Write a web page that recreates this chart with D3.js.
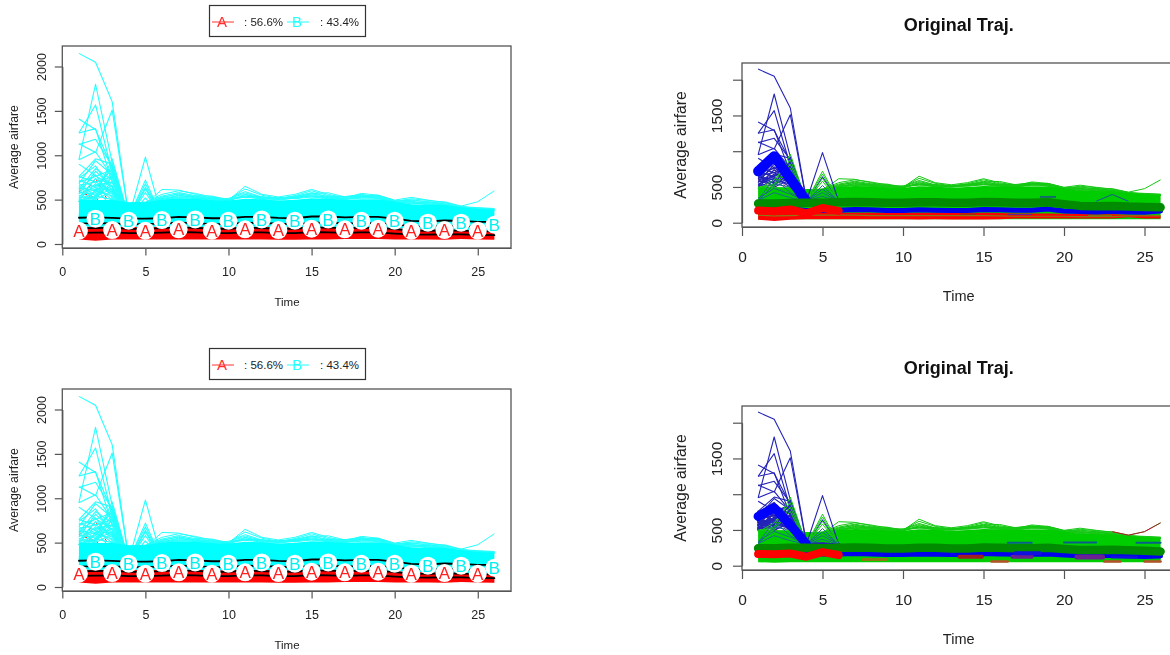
<!DOCTYPE html>
<html>
<head>
<meta charset="utf-8">
<script src="https://cdn.jsdelivr.net/npm/d3@7"></script>
<style>
body { margin: 0; background: #fff; overflow: hidden; }
svg { display: block; filter: blur(0.3px); }
text { font-family: "Liberation Sans", Arial, sans-serif; fill: #222; }
</style>
</head>
<body>
<script>
// Time axis shared by every trajectory
var times = [1,2,3,4,5,6,7,8,9,10,11,12,13,14,15,16,17,18,19,20,21,22,23,24,25,26];
var earlyTimes = [1,2,3,4,5,6];

var xTicks = [0,5,10,15,20,25];
var yTicks = [0,500,1000,1500,2000];
var yLabelsLeft = ['0','500','1000','1500','2000'];
var yLabelsRight = ['0','500','','1500',''];

// Solid body of the trajectories, read as envelopes
var bandTop = [495,495,495,470,470,500,515,510,495,490,510,505,490,500,515,510,500,505,505,480,445,445,440,415,395,385];
var redTop = [195,195,195,195,195,195,195,195,190,190,195,195,190,190,195,195,190,190,190,180,170,165,165,160,158,155];
var redBottom = [50,38,50,52,52,52,52,52,50,52,50,52,48,48,50,52,55,55,55,52,52,52,48,55,50,48];

// Black lines of the left panels
var blackB1 = [296,300,295,285,285,290,305,300,290,290,305,305,295,290,310,310,300,305,305,285,260,255,265,260,250,250];
var blackB2 = [230,235,232,225,225,230,240,235,225,225,240,238,228,225,240,240,232,235,238,220,200,198,205,200,192,190];
var blackA1 = [178,180,185,170,170,178,188,182,172,172,185,180,172,172,188,185,178,182,185,168,150,148,155,150,145,142];
var blackA2 = [125,128,132,122,122,128,135,130,122,122,132,130,122,122,135,132,126,130,132,118,108,105,110,108,102,100];

// Circled group labels
var labelTimesA = [1,3,5,7,9,11,13,15,17,19,21,23,25];
var labelValuesA = [150,157,150,165,150,165,157,172,165,172,150,157,150];
var labelTimesB = [2,4,6,8,10,12,14,16,18,20,22,24,26];
var labelValuesB = [285,262,270,277,262,277,262,277,262,262,240,240,217];

// Tall early trajectories, times 1 to 6
var spikeHigh = [
  [2148,2047,1604,320,300,300],
  [950,1800,920,300,980,300],
  [1250,1567,800,290,640,310],
  [1130,1030,1510,310,300,290],
  [1408,1290,860,300,300,300],
  [1250,1300,700,280,300,300],
  [1120,1180,880,300,300,300],
  [950,1040,760,290,300,310],
  [760,960,900,300,300,300],
  [680,940,780,310,320,300],
  [900,770,650,300,300,290]
];
// Lower early trajectories, times 1 to 6
var spikeLow = [
  [740,880,600,290,300,290],
  [620,850,720,300,300,300],
  [700,760,840,310,310,290],
  [560,820,640,280,300,300],
  [660,700,760,300,300,300],
  [520,740,580,300,290,310],
  [600,660,700,320,300,290],
  [540,620,620,290,300,300],
  [640,600,540,300,280,300],
  [500,680,560,300,300,290],
  [580,560,660,310,300,300],
  [720,640,500,300,300,300],
  [510,580,760,290,300,300],
  [680,540,620,300,310,300],
  [610,780,520,310,300,290],
  [530,520,700,300,300,300],
  [760,700,580,290,300,310],
  [570,640,840,300,290,300],
  [650,500,600,310,300,300]
];
// Nested triangles near the band top on the right panels
var nestedLines = [
  [320,620,420,300,520,300],
  [300,540,500,300,470,300],
  [340,480,400,300,420,300],
  [310,420,350,300,370,300]
];
var greenPeaks = [
  [480,540,960,300,720,300],
  [470,600,880,300,680,300],
  [500,520,820,300,620,300],
  [490,500,760,300,580,300]
];
// Hair lines running above the band
var hairLines = [
  [480,480,480,450,450,615,607,560,510,500,540,520,510,530,570,577,530,540,550,490,470,460,476,427,476,600],
  [480,480,480,450,470,560,600,570,530,495,650,560,530,560,615,560,520,570,550,495,525,495,470,420,410,400],
  [480,480,480,460,470,540,580,545,540,500,620,550,515,545,600,545,530,560,530,480,510,490,465,425,400,395],
  [480,480,480,460,460,520,570,530,520,510,590,530,505,535,580,530,525,540,545,490,490,480,450,410,405,390],
  [480,480,470,450,460,510,550,520,505,490,560,520,500,525,555,520,510,530,520,475,480,465,445,400,395,385],
  [480,480,470,450,450,505,535,510,495,500,540,500,495,515,540,515,505,515,515,470,465,450,440,405,390,380],
  [480,480,470,450,450,530,560,535,515,505,575,525,520,530,565,535,535,550,535,485,500,470,455,415,400,392],
  [480,480,470,450,450,500,545,525,530,495,530,535,510,520,545,525,515,525,530,480,455,475,435,405,398,388],
  [480,480,470,450,450,490,525,540,500,515,525,515,525,510,530,540,510,545,510,465,475,440,450,400,395,382],
  [480,480,470,450,450,515,520,515,510,485,555,510,505,540,530,510,500,535,540,460,450,455,430,395,392,380]
];
// Faint red lines inside the early spikes
var redSpikes = [
  [620,480,350,300,460,300],
  [480,740,400,300,420,300],
  [590,520,380,280,440,280]
];
// Lone blue line near the end of the upper right panel
var blueBump = [300,395,300];
var blueBumpTimes = [22,23,24];

// Means of the right panels
var greenMeanTop = [270,270,275,280,280,285,290,285,280,280,285,285,280,280,290,285,280,280,285,260,235,230,235,225,220,215];
var blueMeanTop = [190,185,190,170,170,175,185,180,170,170,180,175,170,170,185,180,175,175,190,165,155,150,160,150,145,165];
var redMeanTop = [170,160,185,130,205,165];
var blueThickTop = [720,930,620,300];
var greenMeanBottom = [245,245,250,250,245,250,255,250,240,240,250,250,240,240,255,250,245,245,250,235,220,218,222,215,208,197];
var blueMeanBottom = [190,185,190,160,165,165,170,165,155,155,165,160,155,155,170,165,160,160,165,150,140,135,145,135,130,135];
var redMeanBottom = [165,160,170,125,190,150];
var blueThickBottom = [690,810,570,305];
var oliveLine = [105,95,100,105,105,105,105,100,100,100,100,100,100,100,100,95,90,90,90,90,85,85,85,95,95,95];
var redBandTop = [140,140,140,140,140,140,140,140,135,135,140,140,135,135,140,135,130,130,130,125,120,115,118,110,105,100];
var redBandBottom = [40,25,40,50,50,50,50,50,48,50,45,50,45,45,45,50,60,60,60,60,60,60,60,75,60,60];
var lowerBand = [50,40,50,50,50,50,50,50,50,50,50,50,50,50,50,50,50,50,50,50,50,50,50,50,50,50];

// Patches of other colours showing through the band: start, end, value
var patchesTop = [
  [18.5,19.5,360,'#1f2fb0'],[13.5,14.5,120,'#8a3a10'],[16.5,18,115,'#6a2090'],[21.5,23,100,'#8a6a10']
];
var patchSpans = [
  [13.5,14.9,126,'#a02020',4],[16.8,18,125,'#6a2090',4],[20.8,22.4,120,'#6a2090',5],
  [22.5,23.5,60,'#b8502a',2.5],[25,26,60,'#b8502a',2.5],[7.5,9,85,'#8a7a10',3],
  [15.5,16.5,60,'#b8502a',2.5],[16.5,18,322,'#0a5f8a',2],[20,22,325,'#0a5f8a',2],[24.5,26,320,'#0a5f8a',2],
  [17,18.5,175,'#1010e0',4],[23,24.5,120,'#1010e0',3]
];

var svg = d3.select('body').append('svg')
    .attr('width', 1170)
    .attr('height', 655);

function drawLine(g, x, y, xs, values, color, width, dash) {
    var line = d3.line()
        .x(function(d, i) { return x(xs[i]); })
        .y(function(d) { return y(d); });
    g.append('path')
        .attr('d', line(values))
        .attr('fill', 'none')
        .attr('stroke', color)
        .attr('stroke-width', width)
        .attr('stroke-linejoin', 'round')
        .attr('stroke-linecap', width > 1.7 ? 'round' : 'butt')
        .attr('stroke-dasharray', dash || null);
}

function drawBand(g, x, y, top, bottom, color) {
    var area = d3.area()
        .x(function(d, i) { return x(times[i]); })
        .y0(function(d, i) { return y(bottom[i]); })
        .y1(function(d) { return y(d); });
    g.append('path').attr('d', area(top)).attr('fill', color);
}

// Box, axes and axis titles in the style of a base R plot
function drawFrame(g, p) {
    g.append('rect')
        .attr('x', p.left).attr('y', p.boxTop)
        .attr('width', p.boxRight - p.left).attr('height', p.boxBottom - p.boxTop)
        .attr('fill', 'none').attr('stroke', '#555').attr('stroke-width', 1.3);

    var ax = g.append('g')
        .attr('transform', 'translate(0,' + p.boxBottom + ')')
        .call(d3.axisBottom(p.x).tickValues(xTicks).tickFormat(d3.format('d')).tickSize(p.tick).tickSizeOuter(0).tickPadding(p.xPad));
    var ay = g.append('g')
        .attr('transform', 'translate(' + p.left + ',0)')
        .call(d3.axisLeft(p.y).tickValues(yTicks).tickFormat(function(d, i) { return p.yLabels[i]; }).tickSize(p.tick).tickSizeOuter(0));
    ay.selectAll('text')
        .attr('x', 0).attr('dy', 0)
        .attr('text-anchor', 'middle')
        .attr('transform', 'translate(' + (p.yLabelX - p.left + 0.36 * p.font) + ',0) rotate(-90)');
    [ax, ay].forEach(function(a) {
        a.selectAll('text').style('font-size', p.font + 'px').style('font-family', '"Liberation Sans"').attr('fill', '#222');
        a.selectAll('line').attr('stroke', '#555').attr('stroke-width', 1.2);
        a.select('.domain').attr('stroke', '#555').attr('stroke-width', 1.2);
    });

    g.append('text')
        .text('Time')
        .attr('x', p.timeX).attr('y', p.timeY)
        .attr('text-anchor', 'middle')
        .style('font-size', p.titleFont + 'px');
    g.append('text')
        .text('Average airfare')
        .attr('transform', 'translate(' + (p.labelX + 0.36 * p.labelFont) + ',' + p.labelY + ') rotate(-90)')
        .attr('text-anchor', 'middle')
        .style('font-size', p.labelFont + 'px');
}

function leftPanel(dy) {
    var x = d3.scaleLinear().domain([0, 27]).range([62.3, 511]);
    var y = d3.scaleLinear().domain([0, 2000]).range([244 + dy, 66.5 + dy]);
    var g = svg.append('g');

    drawBand(g, x, y, redTop, redBottom, '#ff0000');
    redSpikes.forEach(function(v) { drawLine(g, x, y, earlyTimes, v, '#ff3030', 1, '3 3'); });
    spikeHigh.concat(spikeLow, nestedLines, greenPeaks).forEach(function(v) {
        drawLine(g, x, y, earlyTimes, v, '#22ffff', 1.1);
    });
    hairLines.forEach(function(v) { drawLine(g, x, y, times, v, '#22ffff', 1); });
    drawBand(g, x, y, bandTop, redTop, '#00ffff');

    [blackB1, blackB2, blackA1, blackA2].forEach(function(v) {
        drawLine(g, x, y, times, v, '#000', 1.8);
    });

    function labels(xs, values, letter, color) {
        xs.forEach(function(t, i) {
            g.append('circle').attr('cx', x(t)).attr('cy', y(values[i])).attr('r', 9).attr('fill', '#fff');
            g.append('text')
                .text(letter)
                .attr('x', x(t)).attr('y', y(values[i]))
                .attr('dy', '.36em')
                .attr('text-anchor', 'middle')
                .style('font-size', '17px')
                .style('fill', color);
        });
    }
    labels(labelTimesA, labelValuesA, 'A', '#ff2020');
    labels(labelTimesB, labelValuesB, 'B', '#00f0f0');

    drawFrame(g, {
        x: x, y: y, left: 62.3, boxRight: 511, boxTop: 46 + dy, boxBottom: 248 + dy,
        tick: 7.5, xPad: 11.5, yLabels: yLabelsLeft, yLabelX: 41.7, font: 12.5,
        timeX: 287, timeY: 306 + dy, titleFont: 11.5,
        labelX: 13.3, labelY: 147 + dy, labelFont: 12.3
    });

    // Legend above the plot
    var leg = g.append('g').attr('transform', 'translate(0,' + dy + ')');
    leg.append('rect').attr('x', 209.5).attr('y', 5.5).attr('width', 156).attr('height', 31)
        .attr('fill', '#fff').attr('stroke', '#333').attr('stroke-width', 1.2);
    [[212, '#ff3030', 'A', 244, ': 56.6%'], [287, '#22ffff', 'B', 320, ': 43.4%']].forEach(function(e) {
        leg.append('line').attr('x1', e[0]).attr('x2', e[0] + 22).attr('y1', 22).attr('y2', 22)
            .attr('stroke', e[1]).attr('stroke-width', 1);
        leg.append('text').text(e[2]).attr('x', e[0] + 10).attr('y', 22).attr('dy', '.36em')
            .attr('text-anchor', 'middle').style('font-size', '15px').style('fill', e[1]);
        leg.append('text').text(e[4]).attr('x', e[3]).attr('y', 22).attr('dy', '.36em')
            .style('font-size', '11.5px');
    });
}

function rightPanel(dy, isBottom) {
    var x = d3.scaleLinear().domain([0, 27]).range([742, 1176.7]);
    var y = d3.scaleLinear().domain([0, 2000]).range([222.7 + dy, 79.7 + dy]);
    var g = svg.append('g');
    var blue = '#2424b8';

    redSpikes.forEach(function(v) { drawLine(g, x, y, earlyTimes, v, '#a02060', 1, '3 3'); });
    hairLines.forEach(function(v) {
        drawLine(g, x, y, times, v, '#14c814', 1);
    });
    if (isBottom) {
        // the long top line turns dark red on this panel
        drawLine(g, x, y, times.slice(22), hairLines[0].slice(22), '#c01030', 1);
    }
    drawBand(g, x, y, bandTop, lowerBand, '#00cd00');
    if (!isBottom) {
        drawBand(g, x, y, redBandTop, redBandBottom, '#ff0000');
    }
    drawLine(g, x, y, times, oliveLine, isBottom ? '#00cd00' : '#8a7a10', 1.2);

    spikeHigh.forEach(function(v) { drawLine(g, x, y, earlyTimes, v, blue, 1.1); });
    spikeLow.forEach(function(v) { drawLine(g, x, y, earlyTimes, v, blue, isBottom ? 1.8 : 1.2); });
    greenPeaks.forEach(function(v) { drawLine(g, x, y, earlyTimes, v, '#14c814', 1); });
    nestedLines.forEach(function(v) { drawLine(g, x, y, earlyTimes, v, '#1a6a90', 1); });
    if (!isBottom) {
        drawLine(g, x, y, blueBumpTimes, blueBump, '#1f4fa0', 1);
    }

    var greenMean = isBottom ? greenMeanBottom : greenMeanTop;
    var blueMean = isBottom ? blueMeanBottom : blueMeanTop;
    var redMean = isBottom ? redMeanBottom : redMeanTop;
    var blueThick = isBottom ? blueThickBottom : blueThickTop;

    drawLine(g, x, y, [1,2,3,4], blueThick, '#0000ff', isBottom ? 9 : 10);
    drawLine(g, x, y, times, blueMean, '#0000ee', 5);
    drawLine(g, x, y, times, greenMean, '#008b00', 8.5);
    drawLine(g, x, y, earlyTimes, redMean, '#ff0000', 8);

    if (isBottom) {
        patchSpans.forEach(function(s) {
            drawLine(g, x, y, [s[0], s[1]], [s[2], s[2]], s[3], s[4]);
        });
    } else {
        patchesTop.forEach(function(s) {
            drawLine(g, x, y, [s[0], s[1]], [s[2], s[2]], s[3], 1.2);
        });
    }

    drawFrame(g, {
        x: x, y: y, left: 742, boxRight: 1180, boxTop: 63 + dy, boxBottom: 227 + dy,
        tick: 9, xPad: 15, yLabels: yLabelsRight, yLabelX: 716, font: 15.5,
        timeX: 958.7, timeY: 301 + dy, titleFont: 14.5,
        labelX: 680.7, labelY: 145 + dy, labelFont: 15.8
    });

    g.append('text')
        .text('Original Traj.')
        .attr('x', 958.7).attr('y', 25 + dy)
        .attr('dy', '.36em')
        .attr('text-anchor', 'middle')
        .style('font-size', '18px')
        .style('font-weight', 'bold')
        .style('fill', '#111');
}

leftPanel(0);
leftPanel(343);
rightPanel(0, false);
rightPanel(343, true);
</script>
</body>
</html>
